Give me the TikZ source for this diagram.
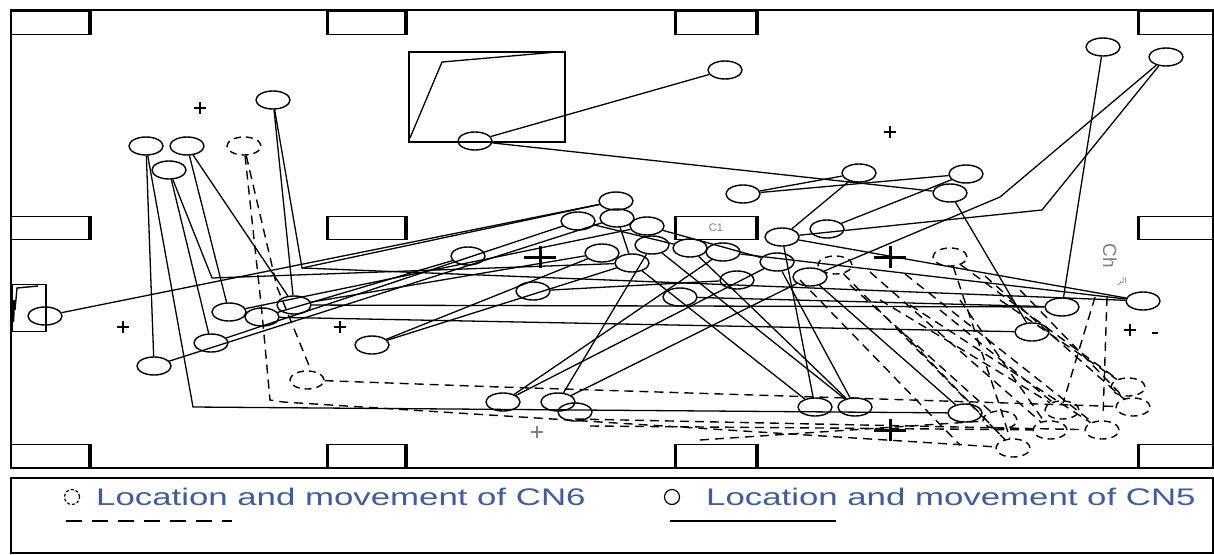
\documentclass[tikz,border=0pt]{standalone}
\usepackage{graphicx}
\usepackage{fontspec}
\setmainfont{Liberation Sans}
\newfontfamily\arabicfont[Script=Arabic]{DejaVu Sans}
\usetikzlibrary{shapes.geometric}
\TeXXeTstate=1
\definecolor{legblue}{HTML}{3D5CA6}
\definecolor{labgray}{gray}{0.5}
\begin{document}
\begin{tikzpicture}[x=1pt,y=-1pt,
  every node/.style={inner sep=0pt},
  wall/.style={line width=1.6pt},
  bed/.style={draw, rectangle, line width=1.5pt, minimum height=23pt},
  bedside/.style={line width=3.5pt},
  cn5/.style={ellipse, draw, line width=1.4pt, minimum width=34pt, minimum height=18pt},
  cn6/.style={cn5, dash pattern=on 7pt off 5pt},
  path5/.style={line width=1.3pt},
  path6/.style={line width=1.4pt, dash pattern=on 9pt off 6pt},
  tick/.style={line width=1.3pt},
  bigtick/.style={line width=3pt},
]
\useasboundingbox (0,0) rectangle (1214,554);
\fill[white] (0,0) rectangle (1214,554);

% ward outline
\draw[wall] (11,10) rectangle (1213,468);

% beds: top, middle and bottom rows
\node[bed, minimum width=78pt] (bA1) at (50,23) {};
\node[bed, minimum width=77pt] (bB1) at (366.5,23) {};
\node[bed, minimum width=80pt] (bC1) at (716,23) {};
\node[bed, minimum width=75pt] (bD1) at (1176.5,23) {};
\node[bed, minimum width=78pt] (bA2) at (50,228) {};
\node[bed, minimum width=77pt] (bB2) at (366.5,228) {};
\node[bed, minimum width=80pt, text=labgray, font=\fontsize{11}{11}\selectfont] (bC2) at (716,228) {C1};
\node[bed, minimum width=75pt] (bD2) at (1176.5,228) {};
\node[bed, minimum width=78pt] (bA3) at (50,456) {};
\node[bed, minimum width=77pt] (bB3) at (366.5,456) {};
\node[bed, minimum width=80pt] (bC3) at (716,456) {};
\node[bed, minimum width=75pt] (bD3) at (1176.5,456) {};
\foreach \b in {bA1,bA2,bA3,bB1,bB2,bB3,bC1,bC2,bC3}
  \draw[bedside] (\b.north east) -- (\b.south east);
\foreach \b in {bB1,bB2,bB3,bC1,bC2,bC3,bD1,bD2,bD3}
  \draw[bedside] (\b.north west) -- (\b.south west);

% door at the left wall
\node[draw, line width=1.2pt, minimum width=34pt, minimum height=47pt] (door) at (29,308) {};
\draw[line width=1.4pt] (38,286) -- (17,288) -- (15,310);
\draw[line width=2.4pt] (14,300) -- (13,322);

% cabinet with its panel
\node[draw, line width=1.3pt, minimum width=156pt, minimum height=90pt] (cab) at (487,97) {};
\draw[line width=1.3pt] (410,138) -- (442,62) -- (557,52);

% reference marks
\draw[tick] (194,108) -- (206,108) (200,102) -- (200,114);
\draw[tick] (884,132) -- (896,132) (890,126) -- (890,138);
\draw[tick] (117,327) -- (129,327) (123,321) -- (123,333);
\draw[tick] (334,327) -- (346,327) (340,321) -- (340,333);
\draw[tick, labgray] (531,432) -- (543,432) (537,426) -- (537,438);
\draw[tick] (1124,330) -- (1136,330) (1130,324) -- (1130,336);
\draw[line width=2pt] (1152,333) -- (1158,333);
\draw[bigtick] (524,257) -- (556,257) (540,246) -- (540,268);
\draw[bigtick] (874,257) -- (906,257) (890,246) -- (890,268);
\draw[bigtick] (874,430) -- (906,430) (890,419) -- (890,441);

% side labels
\node[rotate=-90, text=labgray, font=\fontsize{19}{19}\selectfont] (chl) at (1110,256) {Ch};
\node[text=labgray, font=\arabicfont\fontsize{8}{8}\selectfont] (arl) at (1122,281) {\beginR الر\endR};

% CN5 positions
\node[cn5] (e1) at (273,100) {};
\node[cn5] (e2) at (146,146) {};
\node[cn5] (e3) at (187,146) {};
\node[cn5] (e4) at (169,170) {};
\node[cn5] (e5) at (725,70) {};
\node[cn5] (e6) at (475,141) {};
\node[cn5] (e7) at (1103,47) {};
\node[cn5] (e8) at (1166,57) {};
\node[cn5] (e9) at (859,173) {};
\node[cn5] (e10) at (966,174) {};
\node[cn5] (e11) at (743,194) {};
\node[cn5] (e12) at (950,193) {};
\node[cn5] (e13) at (616,201) {};
\node[cn5] (e14) at (578,221) {};
\node[cn5] (e15) at (617,218) {};
\node[cn5] (e16) at (647,226) {};
\node[cn5] (e17) at (827,229) {};
\node[cn5] (e18) at (468,256) {};
\node[cn5] (e19) at (602,253) {};
\node[cn5] (e20) at (652,245) {};
\node[cn5] (e21) at (632,263) {};
\node[cn5] (e22) at (690,248) {};
\node[cn5] (e23) at (723,252) {};
\node[cn5] (e24) at (777,262) {};
\node[cn5] (e25) at (782,237) {};
\node[cn5] (e26) at (680,297) {};
\node[cn5] (e27) at (737,280) {};
\node[cn5] (e28) at (533,291) {};
\node[cn5] (e29) at (810,277) {};
\node[cn5] (e30) at (45,316) {};
\node[cn5] (e31) at (229,312) {};
\node[cn5] (e32) at (262,317) {};
\node[cn5] (e33) at (294,305) {};
\node[cn5] (e34) at (211,343) {};
\node[cn5] (e35) at (154,366) {};
\node[cn5] (e36) at (372,345) {};
\node[cn5] (e37) at (1062,307) {};
\node[cn5] (e38) at (1143,301) {};
\node[cn5] (e39) at (1032,332) {};
\node[cn5] (e40) at (503,402) {};
\node[cn5] (e41) at (558,402) {};
\node[cn5] (e42) at (575,412) {};
\node[cn5] (e43) at (815,407) {};
\node[cn5] (e44) at (855,407) {};
\node[cn5] (e45) at (965,413) {};

% CN6 positions
\node[cn6] (d1) at (244,146) {};
\node[cn6] (d2) at (950,257) {};
\node[cn6] (d3) at (307,380) {};
\node[cn6] (d4) at (1128,387) {};
\node[cn6] (d5) at (1133,407) {};
\node[cn6] (d6) at (1102,430) {};
\node[cn6] (d7) at (1050,430) {};
\node[cn6] (d8) at (1013,448) {};
\node[cn6] (d9) at (835,265) {};
\node[cn6] (d10) at (1000,420) {};
\node[cn6] (d11) at (1062,410) {};

% bends of the CN5 track
\coordinate (k1) at (1000,197);
\coordinate (k2) at (1042,210);
\coordinate (k3) at (302,268);
\coordinate (k4) at (193,407);
\coordinate (k5) at (212,278);

% CN5 movement
\draw[path5] (e6) -- (e5);
\draw[path5] (e6) -- (e12);
\draw[path5] (e11) -- (e9);
\draw[path5] (e11) -- (e10);
\draw[path5] (e7) -- (e37);
\draw[path5] (e8) -- (k1) -- (e29);
\draw[path5] (e8) -- (k2) -- (e25);
\draw[path5] (e10) -- (e17);
\draw[path5] (e9) -- (e25);
\draw[path5] (e12) -- (e39);
\draw[path5] (e1) -- (k3) -- (e13);
\draw[path5] (k3) -- (e38);
\draw[path5] (e1) -- (e33);
\draw[path5] (e2) -- (e35);
\draw[path5] (e2) -- (k4) -- (e45);
\draw[path5] (e3) -- (e33);
\draw[path5] (e3) -- (e31);
\draw[path5] (e4) -- (e34);
\draw[path5] (e4) -- (k5) -- (e21);
\draw[path5] (e30) -- (e13);
\draw[path5] (e35) -- (e15);
\draw[path5] (e34) -- (e14);
\draw[path5] (e36) -- (e19);
\draw[path5] (e36) -- (e21);
\draw[path5] (e31) -- (e16);
\draw[path5] (e33) -- (e19);
\draw[path5] (e32) -- (e18);
\draw[path5] (e32) -- (e39);
\draw[path5] (e33) -- (e37);
\draw[path5] (e26) -- (e37);
\draw[path5] (e25) -- (e38);
\draw[path5] (e23) -- (e38);
\draw[path5] (e14) -- (e22);
\draw[path5] (e16) -- (e24);
\draw[path5] (e15) -- (e21);
\draw[path5] (e28) -- (e27);
\draw[path5] (e40) -- (e23);
\draw[path5] (e40) -- (e24);
\draw[path5] (e41) -- (e20);
\draw[path5] (e41) -- (e29);
\draw[path5] (e21) -- (e43);
\draw[path5] (e20) -- (e44);
\draw[path5] (e22) -- (e44);
\draw[path5] (e24) -- (e44);
\draw[path5] (e25) -- (e43);
\draw[path5] (e29) -- (e45);

% bends of the CN6 track
\coordinate (m1) at (262,313);
\coordinate (m2) at (270,400);
\coordinate (m3) at (283,402);
\coordinate (m4) at (277,287);
\coordinate (m5) at (310,368);
\coordinate (m6) at (500,387);
\coordinate (m7) at (575,419);
\coordinate (m8) at (590,426);
\coordinate (m9) at (870,272);
\coordinate (m10) at (905,274);
\coordinate (m11) at (985,276);
\coordinate (m12) at (960,300);
\coordinate (m13) at (1095,297);
\coordinate (m14) at (1063,403);
\coordinate (m15) at (1107,297);
\coordinate (m16) at (1103,417);
\coordinate (m17) at (1000,407);
\coordinate (m18) at (800,280);
\coordinate (m19) at (960,445);
\coordinate (m20) at (850,285);
\coordinate (m21) at (880,300);
\coordinate (m22) at (910,305);
\coordinate (m23) at (940,310);
\coordinate (m24) at (1000,300);
\coordinate (m25) at (1020,290);
\coordinate (m26) at (900,330);
\coordinate (m27) at (700,440);

% CN6 movement
\draw[path6] (d1) -- (m1) -- (m2) -- (m3) -- (d8);
\draw[path6] (d1) -- (m4) -- (m5) -- (d3);
\draw[path6] (d3) -- (m6) -- (d5);
\draw[path6] (m7) -- (d6);
\draw[path6] (m8) -- (d7);
\draw[path6] (m27) -- (d10);
\draw[path6] (d9) -- (d8);
\draw[path6] (m9) -- (d7);
\draw[path6] (m10) -- (d6);
\draw[path6] (d2) -- (d4);
\draw[path6] (m11) -- (d5);
\draw[path6] (m12) -- (d7);
\draw[path6] (m13) -- (m14);
\draw[path6] (m15) -- (m16);
\draw[path6] (d2) -- (m17) -- (d8);
\draw[path6] (m18) -- (m19);
\draw[path6] (m20) -- (d10);
\draw[path6] (m21) -- (d11);
\draw[path6] (m22) -- (d6);
\draw[path6] (m23) -- (d11);
\draw[path6] (m24) -- (d4);
\draw[path6] (m25) -- (d5);
\draw[path6] (m26) -- (d8);

% key
\draw[line width=1.4pt] (11,478) rectangle (1213,553);
\node[circle, draw, line width=1.2pt, dash pattern=on 3pt off 2pt, minimum size=15pt] (key6) at (72,497) {};
\node[anchor=west, text=legblue, font=\fontsize{24}{24}\selectfont] (txt6) at (96,497) {\scalebox{1.45}[1]{Location and movement of CN6}};
\node[circle, draw, line width=1.2pt, minimum size=15pt] (key5) at (672,497) {};
\node[anchor=west, text=legblue, font=\fontsize{24}{24}\selectfont] (txt5) at (706,497) {\scalebox{1.45}[1]{Location and movement of CN5}};
\coordinate (ln6a) at (66,521);
\coordinate (ln6b) at (232,521);
\coordinate (ln5a) at (670,521);
\coordinate (ln5b) at (836,521);
\draw[line width=1.4pt, dash pattern=on 16pt off 10pt] (ln6a) -- (ln6b);
\draw[line width=1.4pt] (ln5a) -- (ln5b);
\end{tikzpicture}
\end{document}
